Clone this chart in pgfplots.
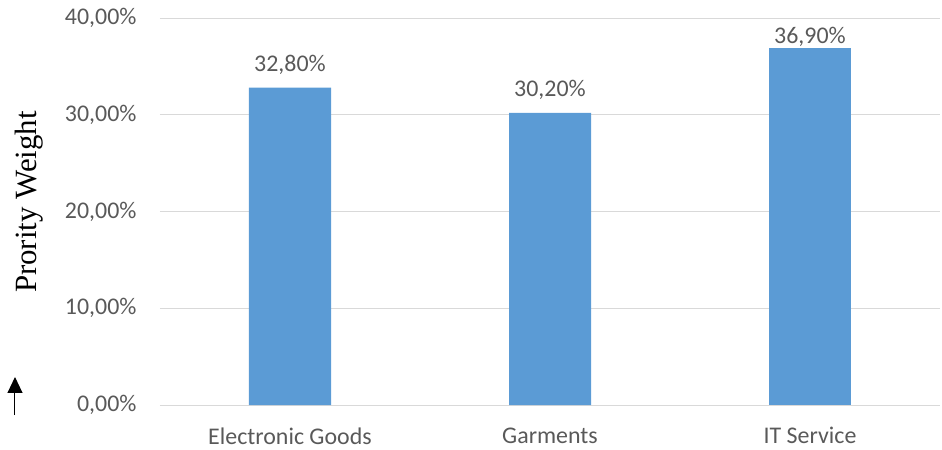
\documentclass[border=0pt]{standalone}
\usepackage{pgfplots}
\pgfplotsset{compat=1.18}
\usepackage{fontspec}
\setmainfont{Carlito}
\newfontfamily\serif{Liberation Serif}
\usetikzlibrary{arrows.meta}
\definecolor{barblue}{HTML}{5B9BD5}
\definecolor{txtgray}{HTML}{595959}
\definecolor{gridgray}{HTML}{D9D9D9}
\begin{document}
\begin{tikzpicture}
\useasboundingbox (-160bp,-45bp) rectangle (782bp,405bp);
\begin{axis}[
  at={(0,0)}, anchor=south west,
  scale only axis, width=780bp, height=387bp,
  xmin=-0.5, xmax=2.5, ymin=0, ymax=40,
  xtick={0,1,2}, xticklabels={Electronic Goods,Garments,IT Service},
  ytick={0,10,20,30,40},
  yticklabel={\pgfmathprintnumber[fixed,fixed zerofill,precision=2,use comma]{\tick}\%},
  /pgf/number format/assume math mode=true,
  ymajorgrids, grid style={gridgray, line width=1bp},
  axis x line*=bottom, axis y line*=left,
  x axis line style={gridgray, line width=1bp, -},
  y axis line style={draw=none},
  major tick length=0pt,
  tick label style={font=\fontsize{24}{28}\selectfont, text=txtgray},
  xticklabel style={yshift=-19bp},
  yticklabel style={xshift=-20bp},
  bar width=82bp,
  nodes near coords={\pgfmathprintnumber[fixed,fixed zerofill,precision=2,use comma]{\pgfplotspointmeta}\%},
  every node near coord/.append style={font=\fontsize{24}{28}\selectfont, text=txtgray},
  clip=false,
]
\addplot[ybar, fill=barblue, draw=none, every node near coord/.append style={yshift=10bp}] coordinates {(0,32.8) (1,30.2)};
\addplot[ybar, fill=barblue, draw=none, every node near coord/.append style={yshift=-2bp}] coordinates {(2,36.9)};
\end{axis}
\node[rotate=90, font=\serif\fontsize{31}{36}\selectfont, inner sep=0pt] at (-131bp,203bp) {Prority Weight};
\draw[line width=1bp, -{Triangle[width=15bp,length=16bp]}] (-145bp,-10bp) -- (-145bp,28bp);
\end{tikzpicture}
\end{document}
